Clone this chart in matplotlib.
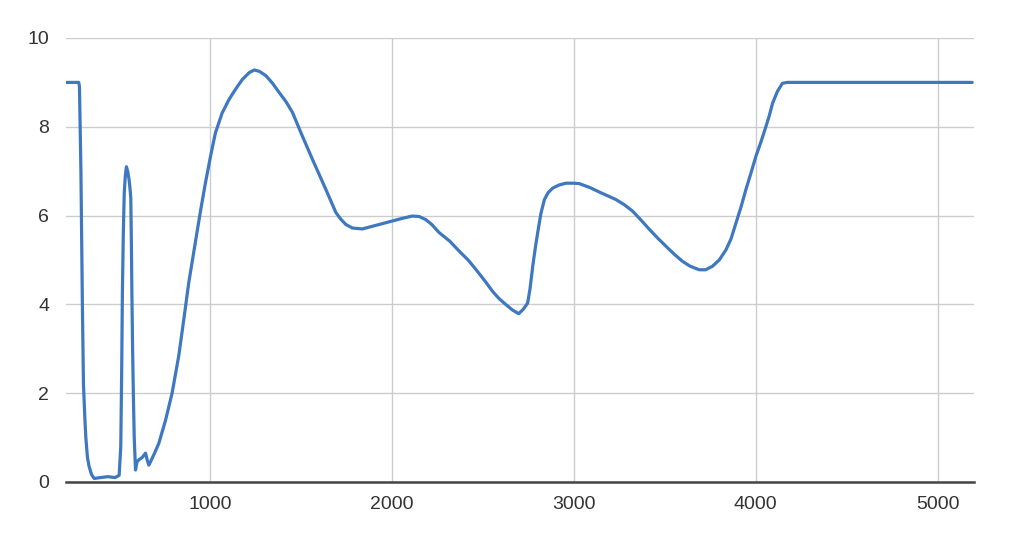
import matplotlib
matplotlib.use("Agg")
import matplotlib.pyplot as plt

# Data
x_vals = [210, 280, 284, 288, 292, 296, 300, 306, 314, 319, 328, 337, 350,
          365, 400, 440, 480, 502, 511, 516, 520, 525, 530, 536, 542, 549,
          557, 562, 566, 569, 572, 576, 580, 585, 592, 600, 610, 628, 647,
          656, 665, 674, 683, 700, 720, 757, 793, 830, 857, 885, 921, 949,
          976, 1004, 1031, 1068, 1104, 1125, 1154, 1180, 1217, 1244, 1272,
          1309, 1345, 1382, 1420, 1455, 1509, 1564, 1638, 1693, 1720, 1748,
          1784, 1839, 1931, 2004, 2060, 2113, 2150, 2187, 2220, 2260, 2320,
          2373, 2420, 2464, 2510, 2555, 2590, 2629, 2665, 2698, 2725, 2747,
          2760, 2775, 2790, 2802, 2820, 2839, 2860, 2885, 2920, 2958, 3000,
          3031, 3090, 3141, 3190, 3233, 3280, 3324, 3370, 3416, 3460, 3507,
          3550, 3598, 3640, 3690, 3725, 3763, 3800, 3837, 3865, 3892, 3920,
          3946, 3975, 4001, 4030, 4056, 4075, 4093, 4120, 4147, 4175, 5190]
y_vals = [9.0, 9.0, 8.9, 8.0, 7.0, 5.5, 4.0, 2.2, 1.4, 1.0, 0.55, 0.35,
          0.17, 0.08, 0.1, 0.12, 0.1, 0.15, 0.8, 2.5, 4.3, 5.6, 6.5, 6.9,
          7.1, 7.0, 6.8, 6.6, 6.4, 5.5, 4.3, 3.0, 2.0, 1.0, 0.27, 0.45, 0.5,
          0.55, 0.65, 0.5, 0.38, 0.45, 0.53, 0.68, 0.87, 1.39, 2.0, 2.85, 3.65,
          4.5, 5.4, 6.1, 6.73, 7.33, 7.86, 8.31, 8.6, 8.74, 8.92, 9.07,
          9.22, 9.28, 9.25, 9.15, 8.98, 8.77, 8.56, 8.32, 7.79, 7.27, 6.59,
          6.07, 5.92, 5.80, 5.72, 5.70, 5.80, 5.88, 5.94, 5.99, 5.98, 5.91,
          5.80, 5.62, 5.42, 5.19, 5.00, 4.78, 4.54, 4.29, 4.13, 3.99, 3.87,
          3.79, 3.90, 4.03, 4.35, 4.86, 5.30, 5.61, 6.05, 6.36, 6.52, 6.62,
          6.69, 6.73, 6.73, 6.72, 6.63, 6.53, 6.44, 6.36, 6.24, 6.10, 5.90,
          5.69, 5.50, 5.31, 5.14, 4.97, 4.86, 4.78, 4.78, 4.86, 5.00, 5.23,
          5.48, 5.83, 6.20, 6.58, 6.97, 7.33, 7.67, 8.00, 8.25, 8.53, 8.80,
          8.98, 9.0, 9.0]

x_ticks = [1000, 2000, 3000, 4000, 5000]
y_ticks = [0, 2, 4, 6, 8, 10]

plt.rcParams['font.family'] = ['Liberation Sans', 'DejaVu Sans']

fig = plt.figure(figsize=(10.24, 5.44), dpi=100)
ax = fig.add_axes([66/1024, 1 - 482/544, (974 - 66)/1024, (482 - 38)/544])

ax.plot(x_vals, y_vals, color='#3d78c0', linewidth=2.3, solid_joinstyle='round',
        solid_capstyle='round', zorder=3)

ax.set_xlim(210, 5200)
ax.set_ylim(0, 10)
ax.set_xticks(x_ticks)
ax.set_yticks(y_ticks)
ax.grid(True, color='#cccccc', linewidth=1.0)
ax.set_axisbelow(True)

for side in ['top', 'right', 'left']:
    ax.spines[side].set_visible(False)
ax.spines['bottom'].set_color('#444444')
ax.spines['bottom'].set_linewidth(1.8)
ax.spines['bottom'].set_zorder(4)

ax.tick_params(axis='both', length=0, labelsize=14, colors='#333333')
ax.tick_params(axis='x', pad=10)
ax.tick_params(axis='y', pad=12)

fig.savefig('out.png', dpi=100, facecolor='white')
